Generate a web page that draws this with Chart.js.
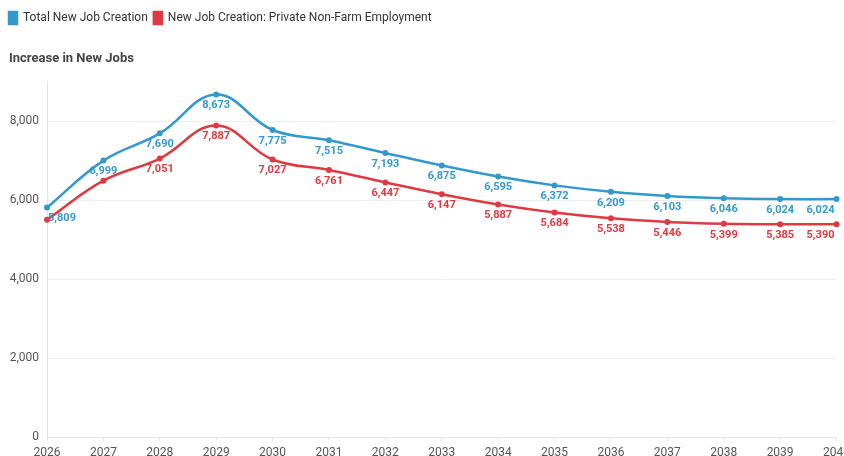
<!DOCTYPE html>
<html>
<head>
<meta charset="utf-8">
<script src="https://cdn.jsdelivr.net/npm/chart.js@4.4.1/dist/chart.umd.min.js"></script>
<style>
  html, body { margin: 0; padding: 0; background: #fff; overflow: hidden; width: 844px; height: 456px; }
  #clip { position: relative; width: 844px; height: 456px; overflow: hidden; }
  #wrap { position: absolute; left: 0; top: 0; width: 856px; height: 466px; }
</style>
</head>
<body>
<div id="clip"><div id="wrap"><canvas id="c"></canvas></div></div>
<script>
const years = ['2026','2027','2028','2029','2030','2031','2032','2033','2034','2035','2036','2037','2038','2039','2040'];
const totalJobs = [5809, 6999, 7690, 8673, 7775, 7515, 7193, 6875, 6595, 6372, 6209, 6103, 6046, 6024, 6024];
const privateJobs = [5500, 6490, 7051, 7887, 7027, 6761, 6447, 6147, 5887, 5684, 5538, 5446, 5399, 5385, 5390];
const seriesNames = ['Total New Job Creation', 'New Job Creation: Private Non-Farm Employment'];
const axisTitle = 'Increase in New Jobs';
const yTicks = [0, 2000, 4000, 6000, 8000];
const hiddenLabels = [[], [0, 1]];

const BLUE = '#3399cc';
const RED = '#dd3a42';
const FONT = 'Roboto, "Noto Sans", sans-serif';

const fmt = v => v.toLocaleString('en-US');

const labelsPlugin = {
  id: 'pointLabels',
  afterDatasetsDraw(chart) {
    const ctx = chart.ctx;
    const area = chart.chartArea;
    ctx.save();
    ctx.font = 'bold 11px ' + FONT;
    ctx.textAlign = 'center';
    ctx.textBaseline = 'middle';
    chart.data.datasets.forEach((ds, di) => {
      const meta = chart.getDatasetMeta(di);
      ctx.fillStyle = ds.borderColor;
      meta.data.forEach((pt, i) => {
        if (hiddenLabels[di].includes(i)) return;
        const txt = fmt(ds.data[i]);
        const w = ctx.measureText(txt).width;
        let x = pt.x;
        if (x - w / 2 < area.left + 1) x = area.left + 1 + w / 2;
        if (x + w / 2 > area.right - 2) x = area.right - 2 - w / 2;
        ctx.fillText(txt, x, pt.y + 11);
      });
    });
    ctx.restore();
  }
};

const titlePlugin = {
  id: 'axisTitleText',
  afterDraw(chart) {
    const tb = chart.titleBlock;
    const ctx = chart.ctx;
    ctx.save();
    ctx.font = 'bold 13px ' + FONT;
    ctx.fillStyle = '#444';
    ctx.textAlign = 'left';
    ctx.textBaseline = 'middle';
    ctx.fillText(axisTitle, 9, tb.top + tb.options.padding.top + 7.8);
    ctx.restore();
  }
};

new Chart(document.getElementById('c'), {
  type: 'line',
  data: {
    labels: years,
    datasets: [
      { label: seriesNames[0], data: totalJobs, borderColor: BLUE, backgroundColor: BLUE,
        pointBackgroundColor: BLUE, borderWidth: 2.5, pointRadius: 3, pointBorderWidth: 0, tension: 0.4 },
      { label: seriesNames[1], data: privateJobs, borderColor: RED, backgroundColor: RED,
        pointBackgroundColor: RED, borderWidth: 2.5, pointRadius: 3, pointBorderWidth: 0, tension: 0.4 }
    ]
  },
  options: {
    responsive: true,
    maintainAspectRatio: false,
    animation: false,
    layout: { padding: { top: 6, left: 3, right: 0, bottom: 1 } },
    plugins: {
      legend: {
        position: 'top', align: 'start', weight: 3000,
        labels: { boxWidth: 8, boxHeight: 12, padding: 6, color: '#333',
          font: { family: FONT, size: 12 } }
      },
      title: {
        display: true, text: axisTitle, align: 'start', color: 'rgba(0,0,0,0)',
        font: { family: FONT, size: 13, weight: 'bold' },
        padding: { top: 17, bottom: 15 }
      },
      tooltip: { enabled: false }
    },
    scales: {
      x: {
        grid: { drawOnChartArea: false, color: '#e6e6e6', tickLength: 4 },
        border: { color: '#e6e6e6' },
        ticks: { color: '#555', padding: 6, maxRotation: 0, autoSkip: false,
          font: { family: FONT, size: 12, lineHeight: 1 } }
      },
      y: {
        min: 0, max: 9000,
        afterBuildTicks: s => { s.ticks = yTicks.map(v => ({ value: v })); },
        afterFit: s => { s.width = 44; },
        grid: { color: '#ececec', drawTicks: false },
        border: { color: '#e6e6e6' },
        ticks: { color: '#555', padding: 8, callback: v => fmt(v),
          font: { family: FONT, size: 12 } }
      }
    }
  },
  plugins: [labelsPlugin, titlePlugin]
});
</script>
</body>
</html>
